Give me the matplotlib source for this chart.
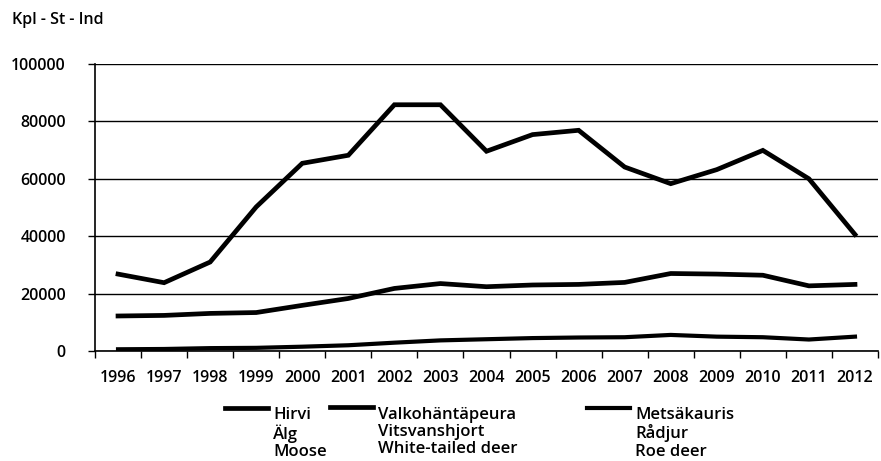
import numpy as np
import matplotlib
matplotlib.use("Agg")
import matplotlib.pyplot as plt
from matplotlib.legend_handler import HandlerLine2D

plt.rcParams['font.family'] = ['Open Sans', 'DejaVu Sans']

years = [str(y) for y in range(1996, 2013)]
moose = [26800, 23800, 31000, 50200, 65400, 68200, 85800, 85800, 69600,
         75400, 76900, 64100, 58300, 63200, 69900, 60000, 40600]
white_tailed = [12200, 12400, 13100, 13400, 15900, 18300, 21800, 23500, 22400,
                23000, 23200, 23900, 27000, 26800, 26400, 22700, 23200]
roe_deer = [600, 700, 1000, 1100, 1500, 2000, 2900, 3700, 4100,
            4500, 4700, 4800, 5600, 5000, 4800, 4000, 5000]
labels = ["Hirvi\nÄlg\nMoose",
          "Valkohäntäpeura\nVitsvanshjort\nWhite-tailed deer",
          "Metsäkauris\nRådjur\nRoe deer"]
yticks = [0, 20000, 40000, 60000, 80000, 100000]


class TopHandler(HandlerLine2D):
    # put the legend line next to the first text row instead of the middle
    def __init__(self, shift, **kw):
        super().__init__(**kw)
        self.shift = shift

    def create_artists(self, legend, orig_handle, xdescent, ydescent,
                       width, height, fontsize, trans):
        arts = super().create_artists(legend, orig_handle, xdescent, ydescent,
                                      width, height, fontsize, trans)
        for a in arts:
            a.set_ydata(np.asarray(a.get_ydata()) + self.shift)
        return arts


fig = plt.figure(figsize=(8.81, 4.61), dpi=100)
ax = fig.add_axes([95 / 881, 1 - 351 / 461, 783 / 881, 287 / 461])

x = np.arange(len(years))
l1, = ax.plot(x, moose, color='black', lw=3.4, solid_joinstyle='miter')
l2, = ax.plot(x, white_tailed, color='black', lw=3.4)
l3, = ax.plot(x, roe_deer, color='black', lw=3.0)

ax.set_xlim(-0.5, len(years) - 0.5)
ax.set_ylim(0, 100000)
ax.set_yticks(yticks)
ax.set_yticklabels([str(v) for v in yticks], fontsize=11.5, fontweight='semibold')
ax.set_xticks(x)
ax.set_xticklabels(years, fontsize=11.5, fontweight='semibold')
ax.set_xticks(np.arange(-0.5, len(years), 1.0), minor=True)
ax.tick_params(axis='x', which='major', length=0, pad=13.5)
ax.tick_params(axis='x', which='minor', length=5, width=1, direction='out', color='black')
ax.tick_params(axis='y', length=5, width=1, color='black', pad=16)
ax.grid(axis='y', color='black', lw=1)
ax.set_axisbelow(True)
for s in ['top', 'right']:
    ax.spines[s].set_visible(False)
ax.spines['left'].set_linewidth(1.2)
ax.spines['bottom'].set_linewidth(1.2)

fig.text(12 / 881, 1 - 20 / 461, "Kpl - St - Ind", fontsize=11.5, fontweight='semibold',
         va='center', ha='left')

legend_x = [225, 330, 587]
for line, lab, lx in zip([l1, l2, l3], labels, legend_x):
    leg = fig.legend([line], [lab], loc='upper left',
                     bbox_to_anchor=(lx / 881, 1 - 407 / 461),
                     frameon=False, fontsize=12, handlelength=2.6,
                     handletextpad=0.3, borderpad=0, borderaxespad=0,
                     handler_map={line: TopHandler(shift=18.5)})
    for t in leg.get_texts():
        t.set_fontweight('semibold')
        t.set_linespacing(1.1)

fig.savefig("out.png", dpi=100)
